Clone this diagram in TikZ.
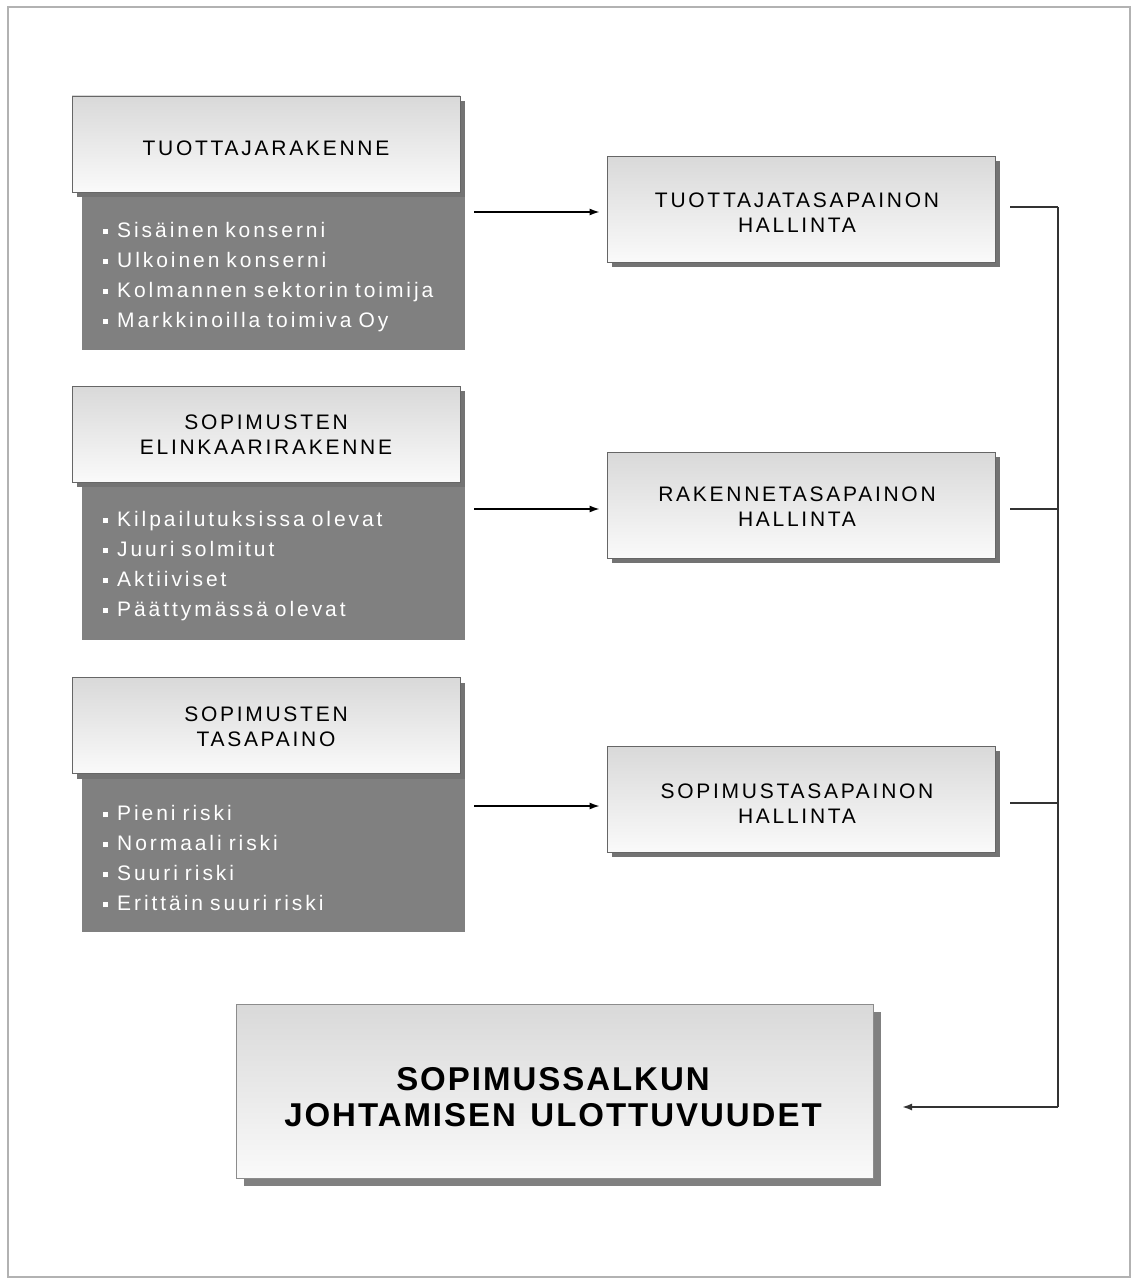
\documentclass[tikz,border=0pt]{standalone}
\usepackage{fontspec}
\setmainfont{Liberation Sans}
\newfontfamily\headfont[LetterSpace=13,WordSpace=1.5]{Liberation Sans}
\newfontfamily\listfont[LetterSpace=14,WordSpace=2]{Liberation Sans}
\newfontfamily\titlefont[LetterSpace=6,WordSpace=1.3]{Liberation Sans}
\usetikzlibrary{arrows.meta,shadows}

\newcommand{\bitem}{\rule[3.5pt]{5pt}{5pt}\hspace{9pt}}

\tikzset{
  grad/.style={draw=black!60, line width=0.9pt, top color=black!15, bottom color=black!2},
  headbox/.style={grad, minimum width=388pt, minimum height=96pt, inner sep=0pt,
    drop shadow={shadow xshift=5pt, shadow yshift=-5pt, fill=black!55, opacity=1}},
  headtext/.style={align=center, inner sep=0pt, font=\headfont\fontsize{21}{25}\selectfont},
  listbox/.style={fill=black!50, draw=none, minimum width=383pt, minimum height=158pt, inner sep=0pt},
  listtext/.style={text width=355pt, align=left, inner sep=0pt, text=white,
    font=\listfont\fontsize{21}{30}\selectfont},
  resultbox/.style={grad, minimum width=388pt, minimum height=106pt, inner sep=0pt,
    drop shadow={shadow xshift=5pt, shadow yshift=-5pt, fill=black!55, opacity=1}},
  mainbox/.style={grad, draw=black!45, minimum width=637pt, minimum height=174pt, inner sep=0pt,
    drop shadow={shadow xshift=8pt, shadow yshift=-8pt, fill=black!50, opacity=1}},
  maintext/.style={align=center, inner sep=0pt, font=\titlefont\bfseries\fontsize{33}{36}\selectfont},
  arr/.style={-{Latex[length=10pt,width=7pt]}, line width=1.4pt, black},
  bus/.style={line width=1.8pt, black!80}
}

\begin{document}
\begin{tikzpicture}[x=1pt,y=-1pt]
  % page and outer frame
  \useasboundingbox (0,0) rectangle (1133,1279);
  \fill[white] (0,0) rectangle (1133,1279);
  \draw[black!30, line width=2.5pt] (8,7) rectangle (1130,1277);

  % left column: item lists (drawn first so the headers sit on top)
  \node[listbox] (l1) at (273.5,271) {};
  \node[listbox] (l2) at (273.5,561) {};
  \node[listbox] (l3) at (273.5,853) {};
  \node[listtext, anchor=west] (l1t) at (103,277) {\bitem Sisäinen konserni\\ \bitem Ulkoinen konserni\\ \bitem Kolmannen sektorin toimija\\ \bitem Markkinoilla toimiva Oy};
  \node[listtext, anchor=west] (l2t) at (103,566) {\bitem Kilpailutuksissa olevat\\ \bitem Juuri solmitut\\ \bitem Aktiiviset\\ \bitem Päättymässä olevat};
  \node[listtext, anchor=west] (l3t) at (103,858) {\bitem Pieni riski\\ \bitem Normaali riski\\ \bitem Suuri riski\\ \bitem Erittäin suuri riski};

  % left column: headers
  \node[headbox] (h1) at (266,144) {};
  \node[headbox] (h2) at (266,434) {};
  \node[headbox] (h3) at (266,725.5) {};
  \node[headtext] (h1t) at (266,148) {TUOTTAJARAKENNE};
  \node[headtext] (h2t) at (266,435) {SOPIMUSTEN\\ELINKAARIRAKENNE};
  \node[headtext] (h3t) at (266,727) {SOPIMUSTEN\\TASAPAINO};

  % right column
  \node[resultbox] (r1) at (801,209) {};
  \node[resultbox] (r2) at (801,505) {};
  \node[resultbox] (r3) at (801,799) {};
  \node[headtext] (r1t) at (797,213) {TUOTTAJATASAPAINON\\HALLINTA};
  \node[headtext] (r2t) at (797,507) {RAKENNETASAPAINON\\HALLINTA};
  \node[headtext] (r3t) at (797,804) {SOPIMUSTASAPAINON\\HALLINTA};

  % bottom summary box
  \node[mainbox] (m) at (554.5,1091) {};
  \node[maintext] (mt) at (553,1097) {SOPIMUSSALKUN\\JOHTAMISEN ULOTTUVUUDET};

  % arrows from the lists to the right column
  \draw[arr, shorten <=9pt, shorten >=7pt] (l1.east |- 0,212) -- (r1.west |- 0,212);
  \draw[arr, shorten <=9pt, shorten >=7pt] (l2.east |- 0,509) -- (r2.west |- 0,509);
  \draw[arr, shorten <=9pt, shorten >=7pt] (l3.east |- 0,806) -- (r3.west |- 0,806);

  % collecting bus into the summary box
  \coordinate (busTop) at (1058,207);
  \coordinate (busEnd) at (1058,1107);
  \coordinate (tip) at (902,1107);
  \draw[bus, shorten <=15pt] (r1.east |- busTop) -- (busTop);
  \draw[bus, shorten <=15pt] (r2.east |- 0,509) -- (1058,509);
  \draw[bus, shorten <=15pt] (r3.east |- 0,803) -- (1058,803);
  \draw[bus] (busTop) -- (busEnd);
  \draw[bus, -{Latex[length=10pt,width=7pt]}] (busEnd) -- (tip);
\end{tikzpicture}
\end{document}
